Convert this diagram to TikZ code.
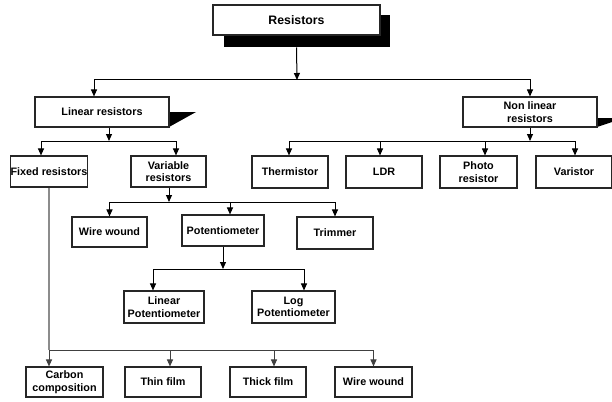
\documentclass[tikz,border=0pt]{standalone}
\usepackage{fontspec}
\setmainfont{Liberation Sans}
\usetikzlibrary{arrows.meta}
\begin{document}
\begin{tikzpicture}[x=1pt, y=-1pt, >={Triangle[length=7pt,width=6pt]},
  line width=1pt,
  box/.style={draw=black!85, line width=1.1pt, fill=white, align=center, inner sep=0pt,
    font=\bfseries\fontsize{10.8}{12.5}\selectfont},
  feed/.style={draw=black!45, line width=1.4pt}]
\useasboundingbox (0,0) rectangle (612,401);
\clip (0,0) rectangle (612,401);

% top
\node[fill=black, minimum width=166, minimum height=32, inner sep=0pt] (ressh) at (307,31) {};
\node[box, minimum width=167, minimum height=30, font=\bfseries\fontsize{12.3}{14}\selectfont] (res) at (296.5,20) {Resistors};

% second row, with shadow wedges
\fill (169,112) -- (196,112) -- (169,127) -- cycle;
\fill (597,118) -- (624,118) -- (597,127) -- cycle;
\node[box, minimum width=134, minimum height=30] (lin) at (102,112) {Linear resistors};
\node[box, minimum width=134, minimum height=30] (nonlin) at (530,112) {Non linear\\resistors};

\node[box, minimum width=76, minimum height=31] (fixed) at (49,171.5) {Fixed resistors};
\node[box, minimum width=75, minimum height=31] (var) at (168.5,171.5) {Variable\\resistors};
\node[box, minimum width=76, minimum height=32] (therm) at (290,172) {Thermistor};
\node[box, minimum width=76, minimum height=32] (ldr) at (384,172) {LDR};
\node[box, minimum width=77, minimum height=32] (photo) at (478.5,172) {Photo\\resistor};
\node[box, minimum width=76, minimum height=32] (vari) at (574,172) {Varistor};

\node[box, minimum width=75, minimum height=30] (wwa) at (109.5,232) {Wire wound};
\node[box, minimum width=82, minimum height=31] (pot) at (223,230.5) {Potentiometer};
\node[box, minimum width=76, minimum height=32] (trim) at (335,233) {Trimmer};

\node[box, minimum width=80, minimum height=32] (linpot) at (164,307) {Linear\\Potentiometer};
\node[box, minimum width=83, minimum height=32] (logpot) at (293.5,307) {Log\\Potentiometer};

\node[box, minimum width=77, minimum height=30] (carbon) at (64.5,382) {Carbon\\composition};
\node[box, minimum width=76, minimum height=30] (thin) at (163,382) {Thin film};
\node[box, minimum width=76, minimum height=30] (thick) at (268,382) {Thick film};
\node[box, minimum width=77, minimum height=30] (wwb) at (373.5,382) {Wire wound};

% junctions
\coordinate (j0) at (297,80);
\coordinate (j1) at (109,141);
\coordinate (j2) at (530,141);
\coordinate (j3) at (169,202);
\coordinate (j4) at (223,269);
\coordinate (j5) at (49,350);

\draw[->] (res.south |- ressh.south) -- (j0);
\draw[->] (j0) -| ([xshift=-8pt]lin.north);
\draw[->] (j0) -| (nonlin.north);

\draw[->] (lin.south -| j1) -- (j1);
\draw[->] (j1) -| ([xshift=-8pt]fixed.north);
\draw[->] (j1) -| ([xshift=7.5pt]var.north);

\draw[->] (nonlin.south -| j2) -- (j2);
\draw[->] (j2) -| ([xshift=-1pt]therm.north);
\draw[->] (j2) -| ([xshift=-4pt]ldr.north);
\draw[->] (j2) -| ([xshift=6.5pt]photo.north);
\draw[->] (j2) -| ([xshift=1pt]vari.north);

\draw[->] (var.south -| j3) -- (j3);
\draw[->] (j3) -| (wwa.north);
\draw[->] (j3) -| ([xshift=7pt]pot.north);
\draw[->] (j3) -| (trim.north);

\draw[->] (pot.south) -- (j4);
\draw[->] (j4) -| ([xshift=-11pt]linpot.north);
\draw[->] (j4) -| ([xshift=10.5pt]logpot.north);

\draw[feed] (fixed.south) -- (j5);
\draw[->, draw=black!75] (j5) -- ([xshift=-15.5pt]carbon.north);
\draw[->, draw=black!75] (j5) -| ([xshift=7pt]thin.north);
\draw[->, draw=black!75] (j5) -| ([xshift=6pt]thick.north);
\draw[->, draw=black!75] (j5) -| (wwb.north);
\end{tikzpicture}
\end{document}
